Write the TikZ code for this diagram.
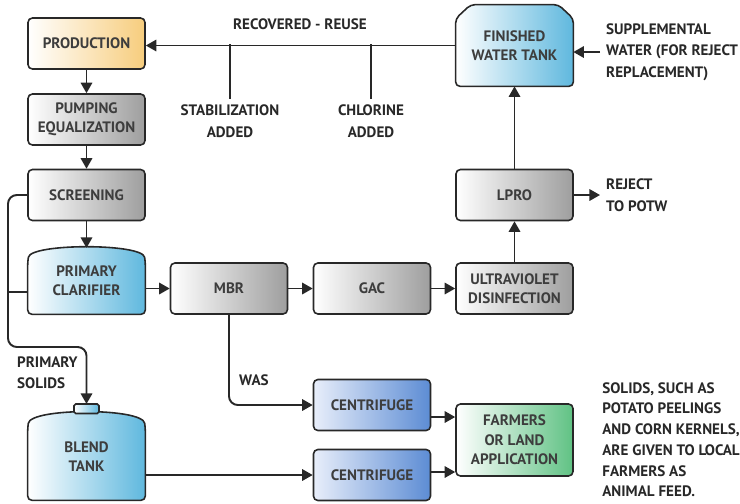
\documentclass[tikz,border=0pt]{standalone}
\usepackage{fontspec}
\setmainfont{PT Sans}
\usepackage{tikz}
\usetikzlibrary{arrows.meta,shapes}
\pgfdeclarelayer{background}
\pgfsetlayers{background,main}
\definecolor{prodyellow}{RGB}{247,205,125}
\definecolor{tankblue}{RGB}{95,184,222}
\definecolor{cfblue}{RGB}{92,140,212}
\definecolor{cfpale}{RGB}{232,238,250}
\definecolor{farmgreen}{RGB}{96,194,132}
\definecolor{ink}{RGB}{40,40,40}
\newcommand{\labfont}{\bfseries\fontsize{8.6}{11}\selectfont}
\newcommand{\notefont}{\bfseries\fontsize{8.6}{12.2}\selectfont}
\tikzstyle{box}=[draw=ink,line width=0.9pt,rounded corners=2.5pt,minimum width=2.34cm,minimum height=1.02cm,align=center,font=\labfont,text=ink!90]
\tikzstyle{graybox}=[box,left color=white,right color=black!38]
\tikzstyle{prodbox}=[box,left color=white,right color=prodyellow]
\tikzstyle{cfbox}=[box,left color=cfpale,right color=cfblue]
\tikzstyle{farmbox}=[box,minimum height=1.44cm,left color=white,right color=farmgreen]
\tikzstyle{tanklabel}=[minimum width=2.34cm,inner sep=0pt,align=center,font=\labfont,text=ink!90]
\tikzstyle{tank}=[draw=ink,line width=0.9pt,rounded corners=2.5pt,left color=white,right color=tankblue]
\tikzstyle{note}=[align=left,font=\notefont,text=ink]
\tikzstyle{pipe}=[draw=ink,line width=1.1pt,rounded corners=5pt]
\tikzstyle{flow}=[pipe,-{Triangle[length=6pt,width=6.5pt]}]

\begin{document}
\begin{tikzpicture}
    \useasboundingbox (0,0) rectangle (14.8,-10.06);
    % First the process boxes
    \node[prodbox] (prod) at (1.73,-0.87) {PRODUCTION};
    \foreach \pos/\name/\txt in {{(1.73,-2.39)/pump/{PUMPING\\EQUALIZATION}}, {(1.73,-3.9)/screen/SCREENING},
        {(4.58,-5.77)/mbr/MBR}, {(7.44,-5.77)/gac/GAC}, {(10.29,-5.77)/uv/{ULTRAVIOLET\\DISINFECTION}},
        {(10.29,-3.9)/lpro/LPRO}}
        \node[graybox] (\name) at \pos {\txt};
    \foreach \pos/\name in {{(7.44,-8.1)/cfa}, {(7.44,-9.5)/cfb}}
        \node[cfbox] (\name) at \pos {CENTRIFUGE};
    \node[farmbox] (farm) at (10.29,-8.8) {FARMERS\\OR LAND\\APPLICATION};
    % Tanks: text nodes, outlines behind them
    \node[tanklabel,minimum height=1.62cm] (fin) at (10.29,-0.91) {FINISHED\\WATER TANK};
    \node[tanklabel,minimum height=1.32cm] (clar) at (1.73,-5.62) {PRIMARY\\CLARIFIER};
    \node[tanklabel,minimum height=1.74cm] (blend) at (1.73,-9.13) {BLEND\\TANK};
    \begin{pgfonlayer}{background}
        \path[tank] (fin.south west) -- ([yshift=-0.28cm]fin.north west) -- ([xshift=0.3cm]fin.north west)
            -- ([xshift=-0.3cm]fin.north east) -- ([yshift=-0.28cm]fin.north east) -- (fin.south east) -- cycle;
        \path[tank] (clar.south west) -- ([yshift=-0.28cm]clar.north west)
            .. controls ([xshift=0.06cm,yshift=0.09cm]clar.north west) and ([xshift=-0.06cm,yshift=0.09cm]clar.north east)
            .. ([yshift=-0.28cm]clar.north east) -- (clar.south east) -- cycle;
        \path[tank] (blend.south west) -- ([yshift=-0.3cm]blend.north west)
            .. controls ([xshift=0.06cm,yshift=0.1cm]blend.north west) and ([xshift=-0.06cm,yshift=0.1cm]blend.north east)
            .. ([yshift=-0.3cm]blend.north east) -- (blend.south east) -- cycle;
        \path[tank,rounded corners=1pt] (1.48,-8.27) rectangle (1.98,-8.08);
    \end{pgfonlayer}
    \coordinate (clartop) at (1.73,-4.96);
    \coordinate (captop) at (1.73,-8.08);
    % Labels
    \node[note,align=center] (recov) at (6.0,-0.48) {RECOVERED - REUSE};
    \node[note,align=center] (stab) at (4.6,-2.42) {STABILIZATION\\ADDED};
    \node[note,align=center] (chlor) at (7.42,-2.42) {CHLORINE\\ADDED};
    \node[note,anchor=west] (supp) at (12.0,-1.04) {SUPPLEMENTAL\\WATER (FOR REJECT\\REPLACEMENT)};
    \node[note,anchor=west] (reject) at (12.0,-3.9) {REJECT\\TO POTW};
    \node[note,anchor=west] (solids) at (0.22,-7.46) {PRIMARY\\SOLIDS};
    \node[note,anchor=west] (was) at (4.66,-7.6) {WAS};
    \node[note,anchor=north west,inner sep=0pt,font=\bfseries\fontsize{8.6}{11.8}\selectfont] (feed) at (12.04,-7.64)
        {SOLIDS, SUCH AS\\POTATO PEELINGS\\AND CORN KERNELS,\\ARE GIVEN TO LOCAL\\FARMERS AS\\ANIMAL FEED.};
    \coordinate (bend) at (0.16,-5.84);
    % Connect everything
    \foreach \source/\dest in {prod/pump, pump/screen, screen/clartop, mbr/gac, gac/uv, uv/lpro, lpro/fin, lpro/reject}
        \path[flow] (\source) -- (\dest);
    \path[flow] (fin.west) -- (fin.west -| prod.east);
    \path[pipe] (stab.north) -- (stab.north |- prod.east);
    \path[pipe] (chlor.north) -- (chlor.north |- prod.east);
    \path[flow] (supp.west) -- (supp.west -| fin.east);
    \path[flow] (clar.east |- mbr.west) -- (mbr.west);
    \path[flow] (screen.west) -| (bend) |- (0.7,-6.94) -| (captop);
    \path[pipe] (bend) -- (bend -| clar.west);
    \path[flow] (mbr.south) |- (cfa.west);
    \path[flow] (blend.east |- cfb.west) -- (cfb.west);
    \path[flow] ([yshift=-0.24cm]cfa.east) -- ([yshift=-0.24cm]cfa.east -| farm.west);
    \path[flow] ([yshift=0.06cm]cfb.east) -- ([yshift=0.06cm]cfb.east -| farm.west);
\end{tikzpicture}
\end{document}
